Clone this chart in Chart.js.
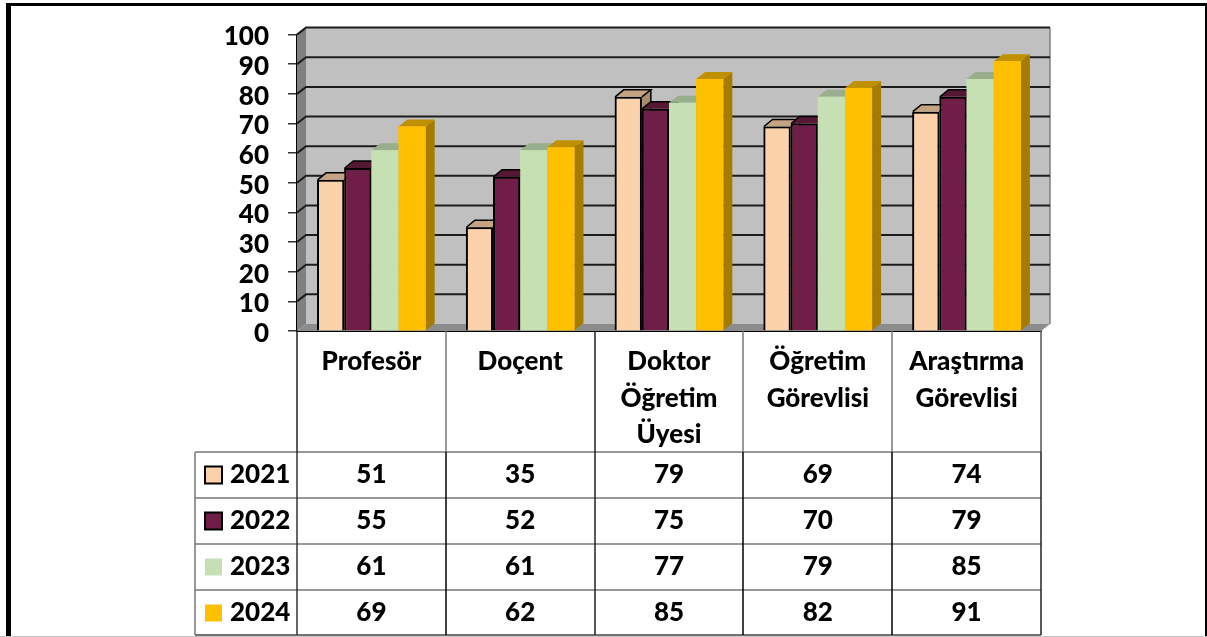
<!DOCTYPE html>
<html>
<head>
<meta charset="utf-8">
<script src="https://cdn.jsdelivr.net/npm/chart.js@4"></script>
<style>
html, body { margin: 0; padding: 0; background: #fff; overflow: hidden; }
canvas { display: block; }
</style>
</head>
<body>
<canvas id="myChart" width="1207" height="637"></canvas>
<script>
const categories = [["Profesör"], ["Doçent"], ["Doktor", "Öğretim", "Üyesi"], ["Öğretim", "Görevlisi"], ["Araştırma", "Görevlisi"]];
const seriesNames = ["2021", "2022", "2023", "2024"];
const values2021 = [51, 35, 79, 69, 74];
const values2022 = [55, 52, 75, 70, 79];
const values2023 = [61, 61, 77, 79, 85];
const values2024 = [69, 62, 85, 82, 91];
const allValues = [values2021, values2022, values2023, values2024];

const fillColors = ["#FCD2AB", "#6F1F47", "#C6E0B4", "#FFC000"];
const topColors = ["#C4A484", "#551834", "#99AE8C", "#BF9000"];
const sideColors = ["#A88C72", "#4A142E", "#84967A", "#A67C00"];
const borderWidths = [2, 2, 0, 0];

const font = "Lato";
const depthX = 9;
const depthY = 7;

function poly(ctx, pts, fill) {
    ctx.beginPath();
    ctx.moveTo(pts[0][0], pts[0][1]);
    for (let i = 1; i < pts.length; i++) ctx.lineTo(pts[i][0], pts[i][1]);
    ctx.closePath();
    ctx.fillStyle = fill;
    ctx.fill();
}

// walls, floor and gridlines of the fake 3d box
const boxPlugin = {
    id: "box",
    beforeDraw(chart) {
        // y labels sit a little under their ticks in the original
        chart.scales.y.getLabelItems().forEach(item => {
            if (!item.moved) {
                item.options.translation[1] += 2.5;
                item.moved = true;
            }
        });
    },
    beforeDatasetsDraw(chart) {
        const ctx = chart.ctx, a = chart.chartArea, y = chart.scales.y;
        ctx.save();
        poly(ctx, [[a.left + depthX, a.top - depthY], [a.right + depthX, a.top - depthY], [a.right + depthX, a.bottom - depthY], [a.left + depthX, a.bottom - depthY]], "#C0C0C0");
        poly(ctx, [[a.left, a.top], [a.left + depthX, a.top - depthY], [a.left + depthX, a.bottom - depthY], [a.left, a.bottom]], "#808080");
        poly(ctx, [[a.left, a.bottom], [a.left + depthX, a.bottom - depthY], [a.right + depthX, a.bottom - depthY], [a.right, a.bottom]], "#8C8C8C");
        ctx.strokeStyle = "#808080";
        ctx.lineWidth = 1.5;
        ctx.beginPath();
        ctx.moveTo(a.right + depthX, a.top - depthY);
        ctx.lineTo(a.right + depthX, a.bottom - depthY);
        ctx.stroke();
        ctx.strokeStyle = "#1c1c1c";
        ctx.lineWidth = 2;
        y.ticks.forEach(t => {
            if (t.value === 0) return;
            const py = y.getPixelForValue(t.value);
            ctx.beginPath();
            ctx.moveTo(a.left, py);
            ctx.lineTo(a.left + depthX, py - depthY);
            ctx.lineTo(a.right + depthX, py - depthY);
            ctx.stroke();
        });
        ctx.restore();
    },
    // bars are repainted left to right so each one covers the side of the one before
    afterDatasetsDraw(chart) {
        const ctx = chart.ctx;
        ctx.save();
        chart.data.labels.forEach((lab, i) => {
            chart.data.datasets.forEach((ds, d) => {
                const bar = chart.getDatasetMeta(d).data[i];
                const l = bar.x - bar.width / 2, r = bar.x + bar.width / 2, t = bar.y, b = bar.base;
                poly(ctx, [[r, b], [r + depthX, b - depthY], [r + depthX, t - depthY], [r, t]], sideColors[d]);
                poly(ctx, [[l, t], [l + depthX, t - depthY], [r + depthX, t - depthY], [r, t]], topColors[d]);
                if (borderWidths[d]) {
                    ctx.strokeStyle = "#000";
                    ctx.lineWidth = 1.5;
                    ctx.beginPath();
                    ctx.moveTo(l + 0.5, t);
                    ctx.lineTo(l + depthX, t - depthY);
                    ctx.lineTo(r + depthX, t - depthY);
                    ctx.lineTo(r, t);
                    ctx.moveTo(r + depthX, t - depthY);
                    ctx.lineTo(r + depthX, b - depthY);
                    ctx.stroke();
                }
                bar.draw(ctx);
            });
        });
        ctx.restore();
    }
};

// data table under the plot, legend keys in the first column, and the outer frame
const tablePlugin = {
    id: "table",
    afterDraw(chart) {
        const ctx = chart.ctx, a = chart.chartArea, x = chart.scales.x;
        const rows = [452, 498, 544, 590, 635];
        const colLeft = 195;
        const step = (a.right - a.left) / categories.length;
        // rules are not all the same shade in the original
        const upperRules = ["#222", "#777", "#222", "#777", "#777", "#555"];
        const lowerRules = ["#333", "#000", "#222", "#000", "#000", "#222"];
        ctx.save();

        ctx.strokeStyle = "#777";
        ctx.lineWidth = 1.5;
        ctx.beginPath();
        ctx.moveTo(colLeft, rows[0]);
        ctx.lineTo(colLeft, rows[rows.length - 1]);
        ctx.stroke();
        rows.forEach(ry => {
            ctx.strokeStyle = ry === rows[rows.length - 1] ? "#444" : "#777";
            ctx.beginPath();
            ctx.moveTo(colLeft, ry);
            ctx.lineTo(a.right, ry);
            ctx.stroke();
        });
        for (let i = 0; i <= categories.length; i++) {
            const px = Math.round(a.left + i * step);
            ctx.strokeStyle = upperRules[i];
            ctx.beginPath();
            ctx.moveTo(px, a.bottom);
            ctx.lineTo(px, rows[0]);
            ctx.stroke();
            ctx.strokeStyle = lowerRules[i];
            ctx.beginPath();
            ctx.moveTo(px, rows[0]);
            ctx.lineTo(px, rows[rows.length - 1]);
            ctx.stroke();
        }

        ctx.font = "900 26px " + font;
        ctx.textBaseline = "middle";
        seriesNames.forEach((name, d) => {
            const cy = rows[d] + 23;
            ctx.fillStyle = fillColors[d];
            ctx.fillRect(205, cy - 8.5, 17, 17);
            if (borderWidths[d]) {
                ctx.strokeStyle = "#000";
                ctx.lineWidth = 2;
                ctx.strokeRect(205, cy - 8.5, 17, 17);
            }
            ctx.fillStyle = "#000";
            ctx.textAlign = "left";
            ctx.fillText(name, 230, cy);
            ctx.textAlign = "center";
            allValues[d].forEach((v, i) => {
                ctx.fillText(String(v), x.getPixelForTick(i), cy);
            });
        });

        ctx.fillStyle = "#000";
        ctx.fillRect(6, 3, 1201, 3);
        ctx.fillRect(6, 3, 5, 634);
        ctx.fillRect(1205, 3, 2, 634);
        ctx.fillStyle = "#C4C4C4";
        ctx.fillRect(0, 636, 1207, 1);
        ctx.restore();
    }
};

const ctx = document.getElementById("myChart");
new Chart(ctx, {
    type: "bar",
    data: {
        labels: categories,
        datasets: seriesNames.map((name, d) => ({
            label: name,
            data: allValues[d],
            backgroundColor: fillColors[d],
            borderColor: "#000",
            borderWidth: borderWidths[d]
        }))
    },
    options: {
        responsive: false,
        animation: false,
        events: [],
        categoryPercentage: 0.73,
        barPercentage: 1,
        layout: { padding: { left: 0, right: 166, top: 34, bottom: 0 } },
        plugins: { legend: { display: false }, tooltip: { enabled: false }, title: { display: false } },
        scales: {
            x: {
                afterFit: s => { s.height = 306; },
                grid: { display: false },
                border: { color: "#000", width: 2 },
                ticks: {
                    autoSkip: false,
                    maxRotation: 0,
                    padding: 5,
                    color: "#000",
                    font: { family: font, size: 26, weight: "900", lineHeight: 1.39 }
                }
            },
            y: {
                min: 0,
                max: 100,
                afterFit: s => { s.width = 297; },
                grid: { drawOnChartArea: false, tickLength: 9, color: "#333", lineWidth: 1.5 },
                border: { color: "#000", width: 2 },
                ticks: {
                    autoSkip: false,
                    stepSize: 10,
                    padding: 19,
                    color: "#000",
                    font: { family: font, size: 26, weight: "900" }
                }
            }
        }
    },
    plugins: [boxPlugin, tablePlugin]
});
</script>
</body>
</html>
